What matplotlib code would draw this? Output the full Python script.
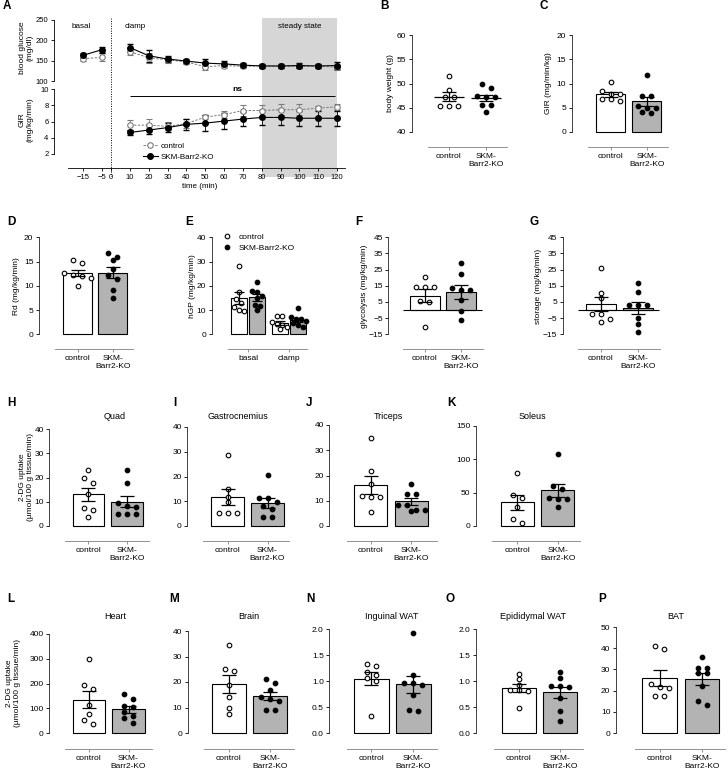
import numpy as np
import matplotlib
matplotlib.use("Agg")
import matplotlib.pyplot as plt
from matplotlib.lines import Line2D

plt.rcParams['font.family'] = ['Liberation Sans', 'DejaVu Sans']
plt.rcParams['font.size'] = 6
plt.rcParams['axes.linewidth'] = 0.6

# ---- panel A: clamp time course ----
time_basal = [-15, -5]
time_clamp = [10, 20, 30, 40, 50, 60, 70, 80, 90, 100, 110, 120]
bg_basal_ctrl = [155, 158]
bg_basal_ctrl_sem = [5, 10]
bg_basal_ko = [163, 177]
bg_basal_ko_sem = [6, 7]
bg_clamp_ctrl = [172, 157, 152, 147, 135, 138, 136, 137, 136, 136, 136, 134]
bg_clamp_ctrl_sem = [8, 12, 7, 5, 8, 5, 4, 3, 4, 4, 5, 6]
bg_clamp_ko = [182, 162, 154, 149, 144, 142, 139, 137, 137, 138, 137, 138]
bg_clamp_ko_sem = [8, 15, 8, 4, 10, 6, 5, 4, 5, 6, 5, 8]
gir_ctrl = [5.55, 5.55, 5.4, 5.75, 6.55, 6.85, 7.35, 7.35, 7.45, 7.45, 7.65, 7.8]
gir_ctrl_sem = [0.6, 0.7, 0.5, 0.6, 0.3, 0.4, 0.7, 0.7, 0.7, 0.7, 0.25, 0.35]
gir_ko = [4.65, 4.95, 5.25, 5.65, 5.8, 6.05, 6.3, 6.5, 6.5, 6.4, 6.4, 6.4]
gir_ko_sem = [0.3, 0.5, 0.6, 0.7, 1.0, 1.0, 0.9, 0.9, 0.9, 0.9, 0.9, 0.9]
a_xticks = [-15, -5, 0, 10, 20, 30, 40, 50, 60, 70, 80, 90, 100, 110, 120]

# ---- individual animals ----
cats = ['control', 'SKM-\nBarr2-KO']
bw_ctrl = [51.6, 48.7, 47.3, 47.3, 45.4, 45.4, 45.4]
bw_ko = [50.0, 49.0, 47.5, 47.3, 47.3, 45.5, 45.5, 44.2]
girss_ctrl = [10.4, 8.4, 7.8, 7.8, 6.8, 6.8, 6.3]
girss_ko = [11.8, 7.5, 7.5, 5.4, 5.0, 5.0, 4.2, 4.0]
rd_ctrl = [15.4, 14.6, 12.6, 12.2, 12.0, 11.6, 10.0]
rd_ko = [16.7, 16.0, 15.3, 13.5, 12.2, 11.5, 9.2, 7.4]
hgp_basal_ctrl = [28.2, 17.4, 14.5, 13.0, 11.2, 10.2, 9.8]
hgp_basal_ko = [21.4, 17.8, 17.6, 16.0, 14.8, 12.1, 11.8, 10.0]
hgp_clamp_ctrl = [7.6, 7.6, 5.0, 4.2, 3.8, 3.0, 2.0]
hgp_clamp_ko = [10.7, 7.0, 6.5, 6.3, 5.5, 4.5, 3.8, 3.2]
glyc_ctrl = [20.2, 14.0, 14.0, 14.0, 5.5, 5.2, -10.7]
glyc_ko = [29.3, 22.6, 13.5, 12.3, 12.3, 6.0, -0.5, -6.0]
stor_ctrl = [26.2, 10.7, 7.2, -2.7, -2.7, -5.6, -7.6]
stor_ko = [16.5, 11.1, 3.3, 3.3, 3.3, -4.7, -8.9, -13.4]
quad_ctrl = [22.9, 19.7, 17.7, 13.2, 7.3, 6.6, 3.6]
quad_ko = [22.9, 17.7, 9.5, 8.2, 8.0, 4.8, 4.8, 4.8]
gas_ctrl = [28.8, 14.9, 11.9, 9.5, 5.4, 5.4, 5.4]
gas_ko = [20.7, 11.5, 11.5, 9.5, 8.0, 6.8, 3.5, 3.5]
tri_ctrl = [34.7, 21.7, 16.5, 12.0, 11.3, 11.3, 5.6]
tri_ko = [16.8, 12.7, 12.7, 8.3, 8.3, 6.5, 6.5, 6.0]
sol_ctrl = [79, 47, 41.5, 29, 10.5, 5]
sol_ko = [107.5, 60.5, 55, 41.5, 40, 40, 28.5]
heart_ctrl = [298, 192, 178, 112, 76, 52, 38]
heart_ko = [156, 136, 110, 105, 84, 70, 62, 42]
brain_ctrl = [34.5, 25.0, 24.5, 19.0, 14.0, 10.0, 7.4]
brain_ko = [21.1, 19.5, 16.9, 14.3, 13.5, 12.4, 9.1, 8.9]
ing_ctrl = [1.33, 1.28, 1.18, 1.12, 1.05, 1.0, 0.33]
ing_ko = [1.92, 1.12, 0.96, 0.96, 0.93, 0.74, 0.44, 0.42]
epi_ctrl = [1.13, 1.03, 0.93, 0.83, 0.82, 0.80, 0.48]
epi_ko = [1.17, 1.06, 0.90, 0.90, 0.88, 0.67, 0.43, 0.23]
bat_ctrl = [40.9, 39.8, 23.1, 21.9, 21.1, 17.3, 17.3]
bat_ko = [35.9, 30.5, 30.5, 28.1, 28.1, 22.3, 15.3, 13.0]

KO_FILL = '#b3b3b3'
W, H = 728, 776
fig = plt.figure(figsize=(W / 100, H / 100), dpi=100)


def box(left, top, right, bottom):
    return fig.add_axes([left / W, 1 - bottom / H, (right - left) / W, (bottom - top) / H])


def fit_lim(va, pa, vb, pb, p_lo, p_hi):
    k = (vb - va) / (pb - pa)
    return va + (p_lo - pa) * k, va + (p_hi - pa) * k


def ftext(x, y, s, **kw):
    fig.text(x / W, 1 - y / H, s, **kw)


def swarm(ax, xc, vals, step=9.0, thr=5.0):
    vals = np.asarray(vals, float)
    ys = ax.transData.transform(np.column_stack([np.full(len(vals), xc), vals]))[:, 1]
    order = np.argsort(-vals)
    offs = np.zeros(len(vals))
    clusters = []
    for i in order:
        if clusters and abs(ys[clusters[-1][0]] - ys[i]) < thr:
            clusters[-1].append(i)
        else:
            clusters.append([i])
    for cl in clusters:
        n = len(cl)
        for j, i in enumerate(cl):
            offs[i] = (j - (n - 1) / 2) * step
    p0 = ax.transData.transform((0, 0))[0]
    p1 = ax.transData.transform((1, 0))[0]
    return xc + offs / (p1 - p0)


def dot_panel(geo, groups, yr, yticks, xlabels=cats, xticks=(0, 1),
              bars=True, width=0.82, fmt=None, zero_line=False, step=9.0):
    sx, c0, c1, lx0, lx1, top, bot, ly = geo
    ax = box(sx, top, lx1, ly)
    ymin, ymax = yr
    ax.set_ylim(*fit_lim(ymax, top, ymin, bot, ly, top))
    ax.set_xlim(*fit_lim(0, c0, 1, c1, sx, lx1))
    ax.patch.set_visible(False)
    for s in ('top', 'right'):
        ax.spines[s].set_visible(False)
    ax.spines['left'].set_bounds(ymin, ymax)
    ax.spines['left'].set_color('#222222')
    ax.spines['bottom'].set_bounds(fit_lim(0, c0, 1, c1, lx0, lx0)[0], ax.get_xlim()[1])
    ax.spines['bottom'].set_color('#808080')
    ax.set_yticks(yticks)
    if fmt:
        ax.set_yticklabels([fmt % t for t in yticks])
    ax.set_xticks(xticks)
    ax.set_xticklabels(xlabels, linespacing=1.25)
    ax.tick_params(axis='both', length=2.5, width=0.6, pad=1.5, labelsize=6)
    ax.tick_params(axis='x', colors='#808080', labelcolor='black', pad=2)
    if zero_line:
        ax.hlines(0, *fit_lim(0, c0, 1, c1, lx0, lx1 - 1), color='black', lw=0.8, zorder=2)
    for xc, vals, ko in groups:
        m = np.mean(vals)
        se = np.std(vals, ddof=1) / np.sqrt(len(vals))
        if bars:
            ax.bar(xc, m, width, color=KO_FILL if ko else 'white',
                   edgecolor='black', linewidth=0.8, zorder=1)
        else:
            ax.hlines(m, xc - 0.4, xc + 0.4, color='black', lw=0.9, zorder=4)
        xs = swarm(ax, xc, vals, step=step)
        ax.scatter(xs, vals, s=11, facecolor='black' if ko else 'white',
                   edgecolor='black', linewidth=0.8, zorder=3, clip_on=False)
        ax.errorbar(xc, m, yerr=se, fmt='none', ecolor='black', elinewidth=0.9,
                    capsize=5 if width > 0.5 else 3.5, capthick=0.9, zorder=4)
    return ax


# ================= panel A =================
xl = fit_lim(-15, 83, 120, 337, 54, 345)
bg = box(54, 18, 345, 177)
bg.set_xlim(*xl)
bg.set_ylim(0, 1)
bg.axis('off')
bg.axvspan(80, 120, color='#d6d6d6', lw=0)
bg.axvline(0, color='black', ls=(0, (1, 1.5)), lw=0.7)

ctrl_style = dict(color='#7a7a7a', ls=(0, (2.5, 1.5)), marker='o', mfc='white',
                  mec='#7a7a7a', ms=4, mew=0.8, lw=0.7, elinewidth=0.6, capsize=2)
ko_style = dict(color='black', ls='-', marker='o', mfc='black', mec='black',
                ms=4, lw=0.8, elinewidth=0.6, capsize=2)

up = box(54, 18, 345, 84)
up.set_xlim(*xl)
up.set_ylim(*fit_lim(250, 20, 100, 81, 84, 18))
up.patch.set_visible(False)
for s in ('top', 'right', 'bottom'):
    up.spines[s].set_visible(False)
up.spines['left'].set_bounds(100, 250)
up.set_xticks([])
up.set_yticks([100, 150, 200, 250])
up.tick_params(length=2.5, width=0.6, pad=1.5, labelsize=5.5)
up.errorbar(time_basal, bg_basal_ctrl, yerr=bg_basal_ctrl_sem, **ctrl_style)
up.errorbar(time_clamp, bg_clamp_ctrl, yerr=bg_clamp_ctrl_sem, **ctrl_style)
up.errorbar(time_basal, bg_basal_ko, yerr=bg_basal_ko_sem, **ko_style)
up.errorbar(time_clamp, bg_clamp_ko, yerr=bg_clamp_ko_sem, **ko_style)
up.text(-16, 233, 'basal', ha='center', va='center', fontsize=5.8)
up.text(13, 233, 'clamp', ha='center', va='center', fontsize=5.8)
up.text(100, 233, 'steady state', ha='center', va='center', fontsize=5.8)

lo = box(54, 86, 345, 168)
lo.set_xlim(*xl)
lo.set_ylim(*fit_lim(10, 89, 2, 154, 168, 86))
lo.patch.set_visible(False)
for s in ('top', 'right'):
    lo.spines[s].set_visible(False)
lo.spines['left'].set_bounds(2, 10)
lo.spines['bottom'].set_bounds(fit_lim(-15, 83, 120, 337, 68, 68)[0], xl[1])
lo.set_yticks([2, 4, 6, 8, 10])
lo.set_xticks(a_xticks)
lo.tick_params(length=2.5, width=0.6, pad=1.5, labelsize=5.5)
lo.errorbar(time_clamp, gir_ctrl, yerr=gir_ctrl_sem, **ctrl_style)
lo.errorbar(time_clamp, gir_ko, yerr=gir_ko_sem, **ko_style)
lo.hlines(9.14, 10, 119, color='black', lw=0.7)
lo.text(67, 9.95, 'ns', ha='center', va='center', fontsize=6, fontweight='bold')
lo.set_xlabel('time (min)', fontsize=5.8, labelpad=2)
handles = [Line2D([], [], **{k: v for k, v in ctrl_style.items()
                             if k not in ('elinewidth', 'capsize')}),
           Line2D([], [], **{k: v for k, v in ko_style.items()
                             if k not in ('elinewidth', 'capsize')})]
lo.legend(handles, ['control', 'SKM-Barr2-KO'], loc='upper left', frameon=False,
          bbox_to_anchor=(143 / W, 1 - 142 / H), bbox_transform=fig.transFigure,
          borderpad=0, borderaxespad=0, handlelength=1.8, handletextpad=0.4,
          labelspacing=0.45, fontsize=5.8)
ftext(26, 48, 'blood glucose\n(mg/dl)', rotation=90, ha='center', va='center', fontsize=6)
ftext(26, 120, 'GIR\n(mg/kg/min)', rotation=90, ha='center', va='center', fontsize=6)

# ================= B, C =================
dot_panel((411.7, 449, 486, 428, 507, 35, 132, 147),
          [(0, bw_ctrl, False), (1, bw_ko, True)], (40, 60), [40, 45, 50, 55, 60], bars=False)
dot_panel((571.7, 610.7, 646.7, 588, 668, 35, 132, 147),
          [(0, girss_ctrl, False), (1, girss_ko, True)], (0, 20), [0, 5, 10, 15, 20])
ftext(390, 83.5, 'body weight (g)', rotation=90, ha='center', va='center')
ftext(549, 83.5, 'GIR (mg/min/kg)', rotation=90, ha='center', va='center')

# ================= D - G =================
dot_panel((39, 77.7, 112.7, 55, 133, 237.3, 334.3, 349),
          [(0, rd_ctrl, False), (1, rd_ko, True)], (0, 20), [0, 5, 10, 15, 20])
axE = dot_panel((211.7, 248, 289, 228, 306.7, 237.3, 334.3, 349),
                [(-0.22, hgp_basal_ctrl, False), (0.22, hgp_basal_ko, True),
                 (0.78, hgp_clamp_ctrl, False), (1.22, hgp_clamp_ko, True)],
                (0, 40), [0, 10, 20, 30, 40], xlabels=['basal', 'clamp'],
                width=0.39, step=5.0)
eh = [Line2D([], [], ls='none', marker='o', ms=3.3, mfc='white', mec='black', mew=0.8),
      Line2D([], [], ls='none', marker='o', ms=3.3, mfc='black', mec='black', mew=0.8)]
axE.legend(eh, ['control', 'SKM-Barr2-KO'], loc='upper left', frameon=False,
           bbox_to_anchor=(223 / W, 1 - 233 / H), bbox_transform=fig.transFigure,
           borderpad=0, borderaxespad=0, handlelength=1.0, handletextpad=0.9,
           labelspacing=0.45, fontsize=6)
dot_panel((388.3, 424.7, 460.8, 402.7, 483.3, 237.3, 334.3, 349),
          [(0, glyc_ctrl, False), (1, glyc_ko, True)], (-15, 45),
          [-15, -5, 5, 15, 25, 35, 45], zero_line=True)
dot_panel((562.7, 601, 638, 578, 660, 237.3, 334.3, 349),
          [(0, stor_ctrl, False), (1, stor_ko, True)], (-15, 45),
          [-15, -5, 5, 15, 25, 35, 45], zero_line=True)
ftext(16, 286, 'Rd (mg/kg/min)', rotation=90, ha='center', va='center')
ftext(192, 286, 'hGP (mg/kg/min)', rotation=90, ha='center', va='center')
ftext(364, 286, 'glycolysis (mg/kg/min)', rotation=90, ha='center', va='center')
ftext(539, 286, 'storage (mg/kg/min)', rotation=90, ha='center', va='center')

# ================= H - K =================
dot_panel((49.3, 88.3, 126.8, 65, 149, 429, 526, 541),
          [(0, quad_ctrl, False), (1, quad_ko, True)], (0, 40), [0, 10, 20, 30, 40])
dot_panel((187.3, 227.5, 267.5, 203, 289, 427, 526, 541),
          [(0, gas_ctrl, False), (1, gas_ko, True)], (0, 40), [0, 10, 20, 30, 40])
dot_panel((329.3, 370.8, 411.2, 347.3, 436.7, 425, 526, 541),
          [(0, tri_ctrl, False), (1, tri_ko, True)], (0, 40), [0, 10, 20, 30, 40])
dot_panel((476, 517.3, 557.8, 492, 580, 426, 526, 541),
          [(0, sol_ctrl, False), (1, sol_ko, True)], (0, 150), [0, 50, 100, 150])
ftext(26, 477, '2-DG uptake\n(µmol/100 g tissue/min)', rotation=90, ha='center', va='center')
for x, t in [(115, 'Quad'), (238, 'Gastrocnemius'), (388, 'Triceps'), (532, 'Soleus')]:
    ftext(x, 416.7, t, ha='center', va='center', fontsize=6.5)

# ================= L - P =================
dot_panel((49.3, 88.8, 128.5, 65, 151.7, 634, 733, 749),
          [(0, heart_ctrl, False), (1, heart_ko, True)], (0, 400), [0, 100, 200, 300, 400])
dot_panel((187.7, 229, 270.3, 204, 294, 631, 733, 749),
          [(0, brain_ctrl, False), (1, brain_ko, True)], (0, 40), [0, 10, 20, 30, 40])
dot_panel((329.3, 371.3, 413.3, 347, 437, 629, 733, 749),
          [(0, ing_ctrl, False), (1, ing_ko, True)], (0, 2), [0, 0.5, 1, 1.5, 2], fmt='%.1f')
dot_panel((476, 518.7, 560, 494, 583, 629, 733, 749),
          [(0, epi_ctrl, False), (1, epi_ko, True)], (0, 2), [0, 0.5, 1, 1.5, 2], fmt='%.1f')
dot_panel((616, 659.7, 702, 635, 725, 627, 733, 749),
          [(0, bat_ctrl, False), (1, bat_ko, True)], (0, 50), [0, 10, 20, 30, 40, 50])
ftext(14, 683, '2-DG uptake\n(µmol/100 g tissue/min)', rotation=90, ha='center', va='center')
for x, t in [(115, 'Heart'), (249, 'Brain'), (392, 'Inguinal WAT'),
             (533, 'Epididymal WAT'), (676, 'BAT')]:
    ftext(x, 616.7, t, ha='center', va='center', fontsize=6.5)

# ---- panel letters ----
letters = [('A', 3, 6), ('B', 380, 6), ('C', 540, 6), ('D', 7, 222), ('E', 185, 222),
           ('F', 355, 222), ('G', 529, 222), ('H', 7, 403), ('I', 173, 403),
           ('J', 306, 403), ('K', 447, 403), ('L', 7, 599), ('M', 169, 599),
           ('N', 306, 599), ('O', 445, 599), ('P', 598, 599)]
for s, x, y in letters:
    ftext(x, y, s, fontsize=8.5, fontweight='bold', ha='left', va='center')

fig.savefig('out.png', dpi=100)
